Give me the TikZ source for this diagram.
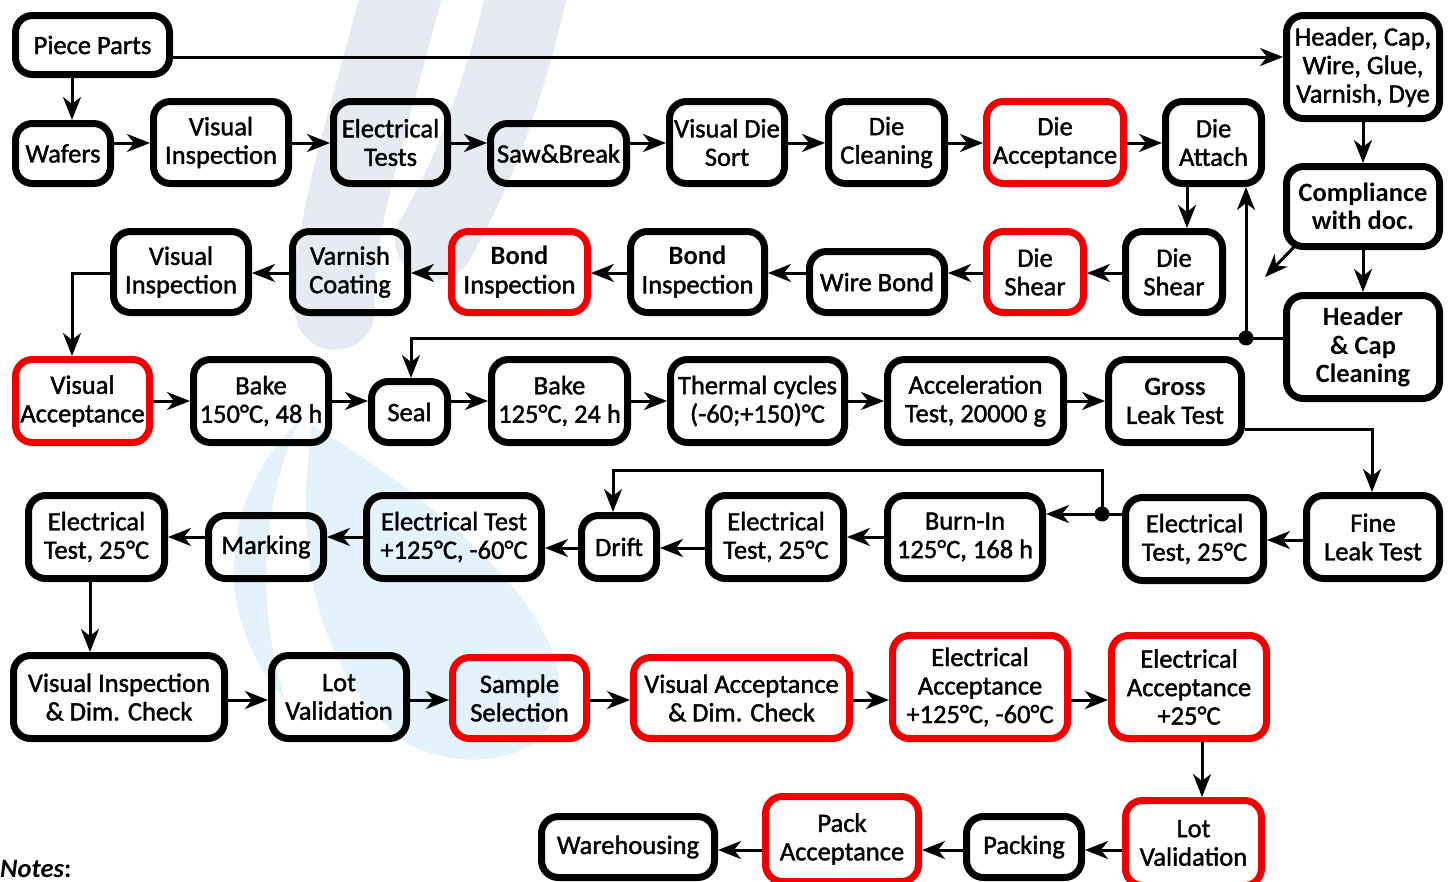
\documentclass[tikz,border=0pt]{standalone}
\usepackage{fontspec}
\setmainfont{Carlito}[UprightFeatures={FakeBold=1.5}]
\usetikzlibrary{arrows.meta}
\definecolor{wmgray}{HTML}{E6EBF2}
\definecolor{wmblue}{HTML}{E3F2FB}
\newcommand\fs{\fontsize{26.5}{28.5}\selectfont}
\newcommand\mkbox[7]{%
  \pgfmathsetmacro\bxcx{(#3+#5)/2}\pgfmathsetmacro\bxcy{(#4+#6)/2}%
  \pgfmathsetmacro\bxw{#5-#3-7}\pgfmathsetmacro\bxh{#6-#4-7}%
  \node[#2, minimum width=\bxw pt, minimum height=\bxh pt] (#1) at (\bxcx,\bxcy) {#7};}
\tikzset{
  box/.style={draw=black, line width=7pt, rounded corners=17pt, align=center, inner sep=1pt, font=\fs},
  rbox/.style={box, draw=red!95!black},
  arr/.style={line width=3pt, -{Stealth[length=23pt,width=18pt,inset=7pt]}},
  ln/.style={line width=3pt},
  dotn/.style={circle, fill=black, inner sep=0pt, minimum size=15pt},
  wmstroke/.style={draw=wmgray, line width=80pt, line cap=round},
}
\begin{document}
\begin{tikzpicture}[x=1pt,y=-1pt]
\useasboundingbox (0,0) rectangle (1456,881);
\clip (0,0) rectangle (1456,881);
% faint watermark
\draw[wmstroke] (405,-20) .. controls (370,120) and (330,230) .. (335,310);
\draw[wmstroke] (530,-20) .. controls (505,90) and (475,170) .. (435,240);
\fill[wmblue] (300,420) .. controls (225,490) and (205,610) .. (285,700)
  .. controls (255,600) and (262,500) .. (300,420) -- cycle;
\fill[wmblue] (312,425) .. controls (420,490) and (560,600) .. (560,690)
  .. controls (560,760) and (470,775) .. (410,745)
  .. controls (320,680) and (292,560) .. (312,425) -- cycle;
% row levels
\coordinate (r1) at (0,57);
\coordinate (r2) at (0,143);
\coordinate (r3) at (0,273);
\coordinate (r4) at (0,401);
\coordinate (r5a) at (0,537);
\coordinate (r5b) at (0,548);
\coordinate (r5c) at (0,540);
\coordinate (r4b) at (0,429);
\coordinate (r6) at (0,700);
\coordinate (r7) at (0,850);
\coordinate (c72) at (72,0);
\coordinate (c90) at (90,0);
\coordinate (c1187) at (1187,0);
\coordinate (c1202) at (1202,0);
\coordinate (c411) at (411,0);
\coordinate (c1372) at (1372,0);
\coordinate (c613) at (613,0);
% boxes
\mkbox{pp}{box}{12}{12}{173}{78}{Piece Parts}
\mkbox{hdr}{box}{1283}{12}{1443}{122}{Header, Cap,\\Wire, Glue,\\Varnish, Dye}
\mkbox{waf}{box}{12}{120}{114}{187}{Wafers}
\mkbox{vi1}{box}{150}{98}{292}{187}{Visual\\Inspection}
\mkbox{et}{box}{330}{98}{451}{187}{Electrical\\Tests}
\mkbox{saw}{box}{487}{120}{630}{187}{Saw\&Break}
\mkbox{vds}{box}{666}{98}{788}{187}{Visual Die\\Sort}
\mkbox{dc}{box}{825}{98}{948}{187}{Die\\Cleaning}
\mkbox{da}{rbox}{983}{98}{1127}{187}{Die\\Acceptance}
\mkbox{dat}{box}{1162}{98}{1265}{187}{Die\\Attach}
\mkbox{comp}{box}{1283}{163}{1443}{250}{\textbf{Compliance}\\\textbf{with doc.}}
\mkbox{hcc}{box}{1283}{292}{1443}{402}{\textbf{Header}\\\textbf{\& Cap}\\\textbf{Cleaning}}
% row 3
\mkbox{vi2}{box}{110}{228}{252}{316}{Visual\\Inspection}
\mkbox{vc}{box}{289}{228}{411}{316}{Varnish\\Coating}
\mkbox{bi1}{rbox}{448}{228}{591}{316}{\textbf{Bond}\\Inspection}
\mkbox{bi2}{box}{627}{228}{768}{316}{\textbf{Bond}\\Inspection}
\mkbox{wb}{box}{806}{248}{948}{316}{Wire Bond}
\mkbox{ds1}{rbox}{983}{228}{1087}{316}{Die\\Shear}
\mkbox{ds2}{box}{1122}{228}{1226}{316}{Die\\Shear}
% row 4
\mkbox{va}{rbox}{12}{356}{153}{446}{Visual\\Acceptance}
\mkbox{b150}{box}{190}{356}{332}{446}{Bake\\150°C, 48 h}
\mkbox{seal}{box}{368}{378}{451}{446}{Seal}
\mkbox{b125}{box}{488}{356}{631}{446}{Bake\\125°C, 24 h}
\mkbox{tc}{box}{667}{356}{848}{446}{Thermal cycles\\(-60;+150)°C}
\mkbox{acc}{box}{884}{356}{1067}{446}{Acceleration\\Test, 20000 g}
\mkbox{gl}{box}{1105}{356}{1245}{446}{\textbf{Gross}\\Leak Test}
% row 5
\mkbox{e25a}{box}{25}{492}{168}{582}{Electrical\\Test, 25°C}
\mkbox{mk}{box}{205}{512}{327}{582}{Marking}
\mkbox{e125}{box}{363}{492}{545}{582}{Electrical Test\\+125°C, -60°C}
\mkbox{dr}{box}{578}{512}{660}{582}{Drift}
\mkbox{e25b}{box}{705}{492}{847}{582}{Electrical\\Test, 25°C}
\mkbox{bin}{box}{884}{492}{1046}{582}{Burn-In\\125°C, 168 h}
\mkbox{e25c}{box}{1122}{494}{1267}{584}{Electrical\\Test, 25°C}
\mkbox{fl}{box}{1303}{492}{1443}{582}{Fine\\Leak Test}
% row 6
\mkbox{vid}{box}{10}{652}{228}{742}{Visual Inspection\\\& Dim. Check}
\mkbox{lv1}{box}{268}{652}{410}{742}{Lot\\Validation}
\mkbox{ss}{rbox}{449}{654}{590}{742}{Sample\\Selection}
\mkbox{vad}{rbox}{630}{654}{853}{742}{Visual Acceptance\\\& Dim. Check}
\mkbox{eac}{rbox}{889}{632}{1071}{742}{Electrical\\Acceptance\\+125°C, -60°C}
\mkbox{ea25}{rbox}{1108}{632}{1270}{742}{Electrical\\Acceptance\\+25°C}
% row 7
\mkbox{wh}{box}{538}{813}{718}{881}{Warehousing}
\mkbox{pa}{rbox}{762}{793}{922}{885}{Pack\\Acceptance}
\mkbox{pk}{box}{963}{813}{1085}{881}{Packing}
\mkbox{lv2}{rbox}{1122}{797}{1265}{889}{Lot\\Validation}
\node[anchor=base west, inner sep=0pt, font=\fs] (notes) at (0,877) {\textbf{\textit{Notes}:}};
% dots
\node[dotn] (dot1) at (1246,338) {};
\node[dotn] (dot2) at (1102,514) {};
% connectors
\draw[arr] (pp.south -| c72) -- (waf.north -| c72);
\draw[arr] (pp.east |- r1) -- (hdr.west |- r1);
\draw[arr] (hdr) -- (comp);
\draw[arr] (comp) -- (hcc);
\coordinate (cmpend) at (1265,277);
\draw[arr] ([xshift=11pt,yshift=3pt]comp.south west) -- (cmpend);
% row 2
\draw[arr] (waf.east |- r2) -- (vi1.west |- r2);
\draw[arr] (vi1.east |- r2) -- (et.west |- r2);
\draw[arr] (et.east |- r2) -- (saw.west |- r2);
\draw[arr] (saw.east |- r2) -- (vds.west |- r2);
\draw[arr] (vds.east |- r2) -- (dc.west |- r2);
\draw[arr] (dc.east |- r2) -- (da.west |- r2);
\draw[arr] (da.east |- r2) -- (dat.west |- r2);
\draw[arr] (dat.south -| c1187) -- (ds2.north -| c1187);
% row 3
\draw[arr] (ds2.west |- r3) -- (ds1.east |- r3);
\draw[arr] (ds1.west |- r3) -- (wb.east |- r3);
\draw[arr] (wb.west |- r3) -- (bi2.east |- r3);
\draw[arr] (bi2.west |- r3) -- (bi1.east |- r3);
\draw[arr] (bi1.west |- r3) -- (vc.east |- r3);
\draw[arr] (vc.west |- r3) -- (vi2.east |- r3);
\draw[arr] (vi2.west |- r3) -| (va.north -| c72);
% header cleaning feedback
\draw[ln] (hcc.west |- dot1) -- (dot1.center);
\draw[arr] (dot1.center) -- (dot1 |- dat.south);
\draw[arr] (dot1.center) -| (seal.north -| c411);
% row 4
\draw[arr] (va.east |- r4) -- (b150.west |- r4);
\draw[arr] (b150.east |- r4) -- (seal.west |- r4);
\draw[arr] (seal.east |- r4) -- (b125.west |- r4);
\draw[arr] (b125.east |- r4) -- (tc.west |- r4);
\draw[arr] (tc.east |- r4) -- (acc.west |- r4);
\draw[arr] (acc.east |- r4) -- (gl.west |- r4);
\draw[arr] (gl.east |- r4b) -| (fl.north -| c1372);
% row 5
\draw[arr] (fl.west |- r5c) -- (e25c.east |- r5c);
\draw[ln] (e25c.west |- dot2) -- (dot2.center);
\draw[arr] (dot2.center) -- (bin.east |- dot2);
\draw[arr] (dot2.center) -- ++(0,-44) -| (dr.north -| c613);
\draw[arr] (bin.west |- r5a) -- (e25b.east |- r5a);
\draw[arr] (e25b.west |- r5b) -- (dr.east |- r5b);
\draw[arr] (dr.west |- r5b) -- (e125.east |- r5b);
\draw[arr] (e125.west |- r5a) -- (mk.east |- r5a);
\draw[arr] (mk.west |- r5a) -- (e25a.east |- r5a);
\draw[arr] (e25a.south -| c90) -- (vid.north -| c90);
% row 6
\draw[arr] (vid.east |- r6) -- (lv1.west |- r6);
\draw[arr] (lv1.east |- r6) -- (ss.west |- r6);
\draw[arr] (ss.east |- r6) -- (vad.west |- r6);
\draw[arr] (vad.east |- r6) -- (eac.west |- r6);
\draw[arr] (eac.east |- r6) -- (ea25.west |- r6);
\draw[arr] (ea25.south -| c1202) -- (lv2.north -| c1202);
% row 7
\draw[arr] (lv2.west |- r7) -- (pk.east |- r7);
\draw[arr] (pk.west |- r7) -- (pa.east |- r7);
\draw[arr] (pa.west |- r7) -- (wh.east |- r7);
\end{tikzpicture}
\end{document}
